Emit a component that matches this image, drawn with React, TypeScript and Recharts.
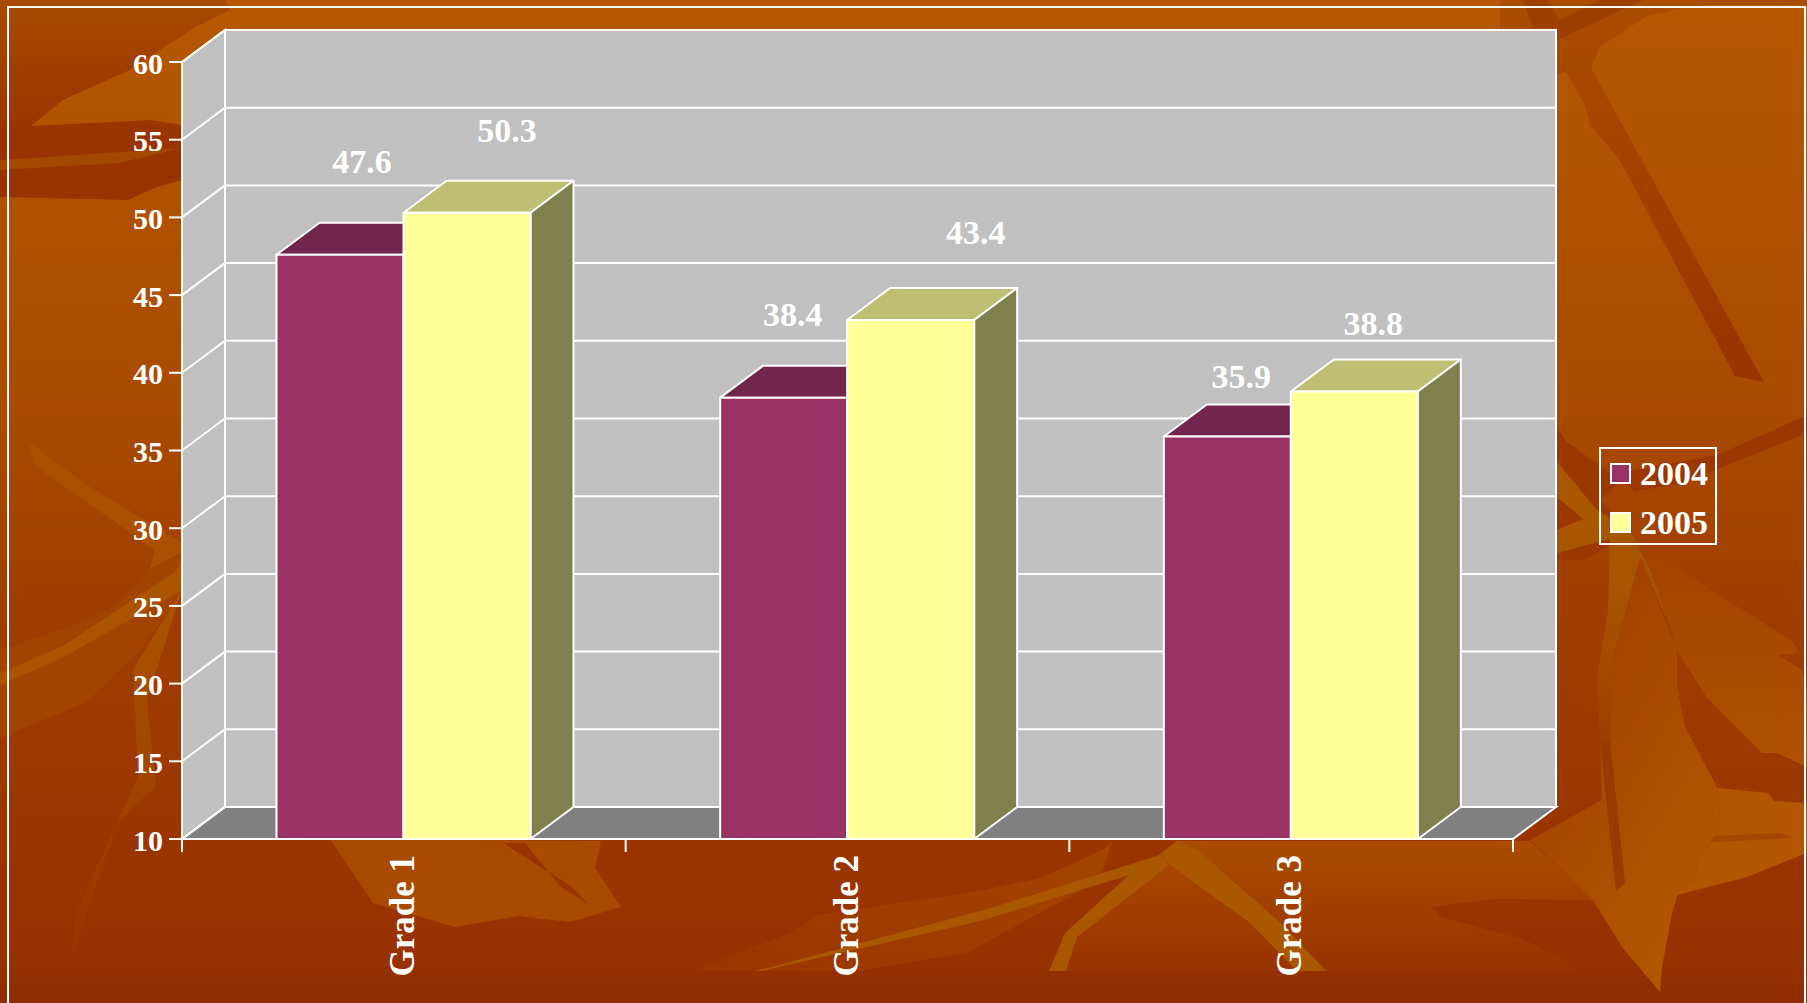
import { Bar, BarChart, CartesianGrid, LabelList, Legend, XAxis, YAxis } from "recharts"

const grades = ["Grade 1", "Grade 2", "Grade 3"]
const values2004 = [47.6, 38.4, 35.9]
const values2005 = [50.3, 43.4, 38.8]
const yTicks = [10, 15, 20, 25, 30, 35, 40, 45, 50, 55, 60]

// label positions in the picture are uneven, [dx, dy] from top centre of the bar
const labelNudge2004 = [[22, -93], [9, -83], [14, -60]]
const labelNudge2005 = [[40, -82], [65, -87], [19, -68]]

const tableData = grades.map((grade, i) => ({
    grade,
    y2004: values2004[i],
    y2005: values2005[i],
}))

const WIDTH = 1807
const HEIGHT = 1003
const LEFT = 182
const RIGHT = 1513
const TOP = 62
const BOTTOM = 839
const DEPTH_X = 43
const DEPTH_Y = 32
const BAND = (RIGHT - LEFT) / grades.length
const SERIF = "'Liberation Serif', serif"
const LINE = 2

type Shape = { fill: string; points: number[][] }

// the decorative slide background, not chart data
const backdropShapes: Shape[] = [
    { fill: "url(#fadeDarkTop)", points: [[0, 0], [226, 0], [230, 10], [195, 27], [130, 70], [63, 100], [31, 126], [149, 120], [182, 125], [182, 180], [157, 187], [128, 200], [0, 197]] },
    { fill: "#A24800", points: [[0, 160], [182, 148], [119, 163], [0, 170]] },
    { fill: "url(#fadeDarkTop2)", points: [[1500, 0], [1807, 0], [1807, 5], [1700, 5], [1647, 16], [1600, 47], [1591, 68], [1764, 382], [1735, 376], [1618, 157], [1590, 125], [1585, 105], [1566, 72], [1500, 90]] },
    { fill: "#9E3E00", points: [[1523, 0], [1533, 28], [1557, 28], [1557, 40], [1643, 0], [1600, 0], [1560, 20], [1548, 0]] },
    { fill: "#9B3800", points: [[1557, 427], [1567, 442], [1635, 491], [1680, 484], [1733, 463], [1807, 433], [1807, 415], [1717, 455], [1633, 470], [1600, 500], [1633, 533], [1583, 560], [1540, 560]] },
    { fill: "url(#fadeStar)", points: [[1557, 462], [1597, 510], [1630, 530], [1645, 560], [1700, 650], [1665, 615], [1640, 557], [1613, 660], [1610, 740], [1600, 743], [1597, 677], [1608, 610], [1610, 539], [1557, 553], [1557, 530], [1583, 519], [1557, 497]] },
    { fill: "url(#fadeRight)", points: [[1530, 840], [1593, 900], [1622, 947], [1660, 992], [1662, 967], [1672, 913], [1680, 887], [1693, 883], [1698, 860], [1718, 833], [1720, 810], [1717, 787], [1685, 727], [1677, 687], [1677, 650], [1640, 557], [1613, 660], [1610, 740], [1600, 743], [1602, 800]] },
    { fill: "#9B3A00", points: [[1610, 740], [1625, 883], [1616, 891], [1602, 760], [1600, 743]] },
    { fill: "#B25600", points: [[1717, 788], [1768, 793], [1774, 801], [1807, 803], [1807, 853], [1747, 877], [1677, 895], [1680, 887], [1693, 883], [1698, 860], [1718, 833], [1720, 810]] },
    { fill: "#A44800", points: [[1714, 836], [1780, 833], [1795, 838], [1710, 842]] },
    { fill: "url(#fadeUpperRight)", points: [[1640, 540], [1693, 578], [1793, 642], [1800, 653], [1778, 655], [1802, 670], [1807, 687], [1807, 767], [1777, 753], [1762, 753], [1707, 698], [1678, 652]] },
    { fill: "url(#fadeMid)", points: [[1177, 841], [1530, 841], [1593, 900], [1496, 899], [1430, 907], [1441, 917], [1525, 940], [1580, 971], [1049, 971], [1100, 900]] },
    { fill: "#A84A00", points: [[330, 839], [601, 841], [595, 868], [621, 907], [570, 922], [518, 916], [455, 927], [373, 903]] },
    { fill: "#993300", points: [[503, 843], [572, 887], [588, 904], [561, 887], [525, 843]] },
    { fill: "url(#fadeLow)", points: [[1112, 841], [1103, 850], [1040, 878], [980, 891], [819, 915], [790, 933], [693, 971], [860, 971], [968, 952], [1100, 880]] },
    { fill: "#AA5800", points: [[756, 971], [991, 908], [1160, 855], [1169, 865], [1129, 875], [980, 921], [762, 971]] },
    { fill: "#AA5800", points: [[1049, 971], [1065, 933], [1129, 875], [1169, 865], [1077, 937], [1066, 971]] },
    { fill: "#AA5800", points: [[1161, 854], [1177, 841], [1199, 851], [1285, 927], [1326, 971], [1297, 971], [1249, 922], [1170, 865]] },
    { fill: "#AA5000", points: [[28, 441], [87, 485], [130, 511], [182, 543], [182, 552], [150, 569], [155, 550], [34, 465]] },
    { fill: "#A24300", points: [[150, 569], [112, 608], [73, 625], [0, 650], [0, 738], [87, 702], [140, 650], [182, 590], [182, 552]] },
    { fill: "#AA5400", points: [[0, 673], [63, 646], [175, 572], [182, 560], [182, 590], [62, 658], [0, 685]] },
    { fill: "url(#fadeGold)", points: [[182, 590], [133, 669], [138, 777], [75, 915], [72, 958], [117, 823], [156, 786], [147, 700]] },
]

function toPoints(points: number[][]) {
    return points.map((p) => p.join(",")).join(" ")
}

//Background picture and the walls of the fake 3D box, sits under the chart.
function Backdrop() {
    const backLeft = LEFT + DEPTH_X
    const backRight = RIGHT + DEPTH_X
    const backTop = TOP - DEPTH_Y
    const backBottom = BOTTOM - DEPTH_Y
    return (
        <svg width={WIDTH} height={HEIGHT} style={{ position: "absolute", left: 0, top: 0 }}>
            <defs>
                <linearGradient id="page" x1="0" y1="0" x2="0" y2="1">
                    <stop offset="0" stopColor="#B55800" />
                    <stop offset="0.38" stopColor="#AA4C00" />
                    <stop offset="0.62" stopColor="#9F3D00" />
                    <stop offset="0.9" stopColor="#993300" />
                    <stop offset="0.96" stopColor="#963100" />
                    <stop offset="1" stopColor="#8E2D00" />
                </linearGradient>
                <linearGradient id="fadeDarkTop" x1="0" y1="0" x2="0" y2="1">
                    <stop offset="0" stopColor="#A84A00" />
                    <stop offset="0.7" stopColor="#993300" />
                    <stop offset="1" stopColor="#993300" />
                </linearGradient>
                <linearGradient id="fadeDarkTop2" x1="0" y1="0" x2="0" y2="1">
                    <stop offset="0" stopColor="#AB4D00" />
                    <stop offset="1" stopColor="#993300" />
                </linearGradient>
                <linearGradient id="fadeStar" x1="0" y1="0" x2="0" y2="1">
                    <stop offset="0" stopColor="#AA5800" />
                    <stop offset="0.45" stopColor="#A85400" />
                    <stop offset="1" stopColor="#9F3E00" />
                </linearGradient>
                <linearGradient id="fadeRight" x1="0" y1="0.2" x2="0.6" y2="1">
                    <stop offset="0" stopColor="#A03D00" />
                    <stop offset="0.55" stopColor="#AA4C00" />
                    <stop offset="1" stopColor="#B25600" />
                </linearGradient>
                <linearGradient id="fadeUpperRight" x1="0" y1="0" x2="0" y2="1">
                    <stop offset="0" stopColor="#A34200" />
                    <stop offset="1" stopColor="#AE5200" />
                </linearGradient>
                <linearGradient id="fadeMid" x1="0" y1="0" x2="0" y2="1">
                    <stop offset="0" stopColor="#AA4C00" />
                    <stop offset="1" stopColor="#993300" />
                </linearGradient>
                <linearGradient id="fadeLow" x1="1" y1="0" x2="0" y2="1">
                    <stop offset="0" stopColor="#A44500" />
                    <stop offset="1" stopColor="#9B3500" />
                </linearGradient>
                <linearGradient id="fadeGold" x1="0" y1="0" x2="0" y2="1">
                    <stop offset="0" stopColor="#AA5400" />
                    <stop offset="0.5" stopColor="#A24500" />
                    <stop offset="1" stopColor="#993300" />
                </linearGradient>
            </defs>
            <rect width={WIDTH} height={HEIGHT} fill="url(#page)" />
            {backdropShapes.map((s, i) => (
                <polygon key={i} points={toPoints(s.points)} fill={s.fill} />
            ))}
            <rect x={8} y={7} width={1797} height={1020} fill="none" stroke="#fff" strokeWidth={LINE} />
            <rect x={backLeft} y={backTop} width={RIGHT - LEFT} height={BOTTOM - TOP} fill="#C0C0C0" stroke="#fff" strokeWidth={LINE} />
            <polygon
                points={toPoints([[LEFT, TOP], [backLeft, backTop], [backLeft, backBottom], [LEFT, BOTTOM]])}
                fill="#C0C0C0"
                stroke="#fff"
                strokeWidth={LINE}
            />
            <polygon
                points={toPoints([[LEFT, BOTTOM], [backLeft, backBottom], [backRight, backBottom], [RIGHT, BOTTOM]])}
                fill="#808080"
                stroke="#fff"
                strokeWidth={LINE}
            />
        </svg>
    )
}

//One grid line on the back wall plus its diagonal on the side wall.
function WallLine(props: any) {
    const { x1, y1, x2, y2 } = props
    return (
        <g>
            <line x1={x1} y1={y1} x2={x1 + DEPTH_X} y2={y1 - DEPTH_Y} stroke="#fff" strokeWidth={LINE} />
            <line x1={x1 + DEPTH_X} y1={y1 - DEPTH_Y} x2={x2 + DEPTH_X} y2={y2 - DEPTH_Y} stroke="#fff" strokeWidth={LINE} />
        </g>
    )
}

function Box3D(props: any) {
    const { x, y, width, height, fill, topFill, sideFill } = props
    const right = x + width
    const bottom = y + height
    return (
        <g stroke="#fff" strokeWidth={LINE} strokeLinejoin="round">
            <polygon
                points={toPoints([[x, y], [x + DEPTH_X, y - DEPTH_Y], [right + DEPTH_X, y - DEPTH_Y], [right, y]])}
                fill={topFill}
            />
            <polygon
                points={toPoints([[right, y], [right + DEPTH_X, y - DEPTH_Y], [right + DEPTH_X, bottom - DEPTH_Y], [right, bottom]])}
                fill={sideFill}
            />
            <rect x={x} y={y} width={width} height={height} fill={fill} />
        </g>
    )
}

function ValueLabel(props: any) {
    const { x, y, width, value, index, nudges } = props
    return (
        <text
            x={x + width / 2 + nudges[index][0]}
            y={y + nudges[index][1]}
            textAnchor="middle"
            dominantBaseline="central"
            fill="#fff"
            fontFamily={SERIF}
            fontWeight={700}
            fontSize={34}
        >
            {value}
        </text>
    )
}

function YTick(props: any) {
    const { x, y, payload } = props
    return (
        <text x={x} y={y + 1} textAnchor="end" dominantBaseline="central" fill="#fff" fontFamily={SERIF} fontWeight={700} fontSize={30}>
            {payload.value}
        </text>
    )
}

//X ticks sit on the band edges, labels are turned on the band centre.
function XTick(props: any) {
    const { x, payload, index } = props
    const labelX = x + 10
    return (
        <g>
            <line x1={x - BAND / 2} y1={BOTTOM} x2={x - BAND / 2} y2={BOTTOM + 13} stroke="#fff" strokeWidth={LINE} />
            {index === grades.length - 1 && (
                <line x1={x + BAND / 2} y1={BOTTOM} x2={x + BAND / 2} y2={BOTTOM + 13} stroke="#fff" strokeWidth={LINE} />
            )}
            <text
                x={labelX}
                y={855}
                transform={`rotate(-90 ${labelX} 855)`}
                textAnchor="end"
                fill="#fff"
                fontFamily={SERIF}
                fontWeight={700}
                fontSize={35}
            >
                {payload.value}
            </text>
        </g>
    )
}

function LegendBox(props: any) {
    const items = props.payload ?? []
    return (
        <div
            style={{
                boxSizing: "border-box",
                width: 118,
                height: 98,
                border: "2px solid #fff",
                paddingLeft: 9,
            }}
        >
            {items.map((item: any) => (
                <div key={item.value} style={{ display: "flex", alignItems: "center", height: 49 }}>
                    <span
                        style={{
                            boxSizing: "border-box",
                            width: 21,
                            height: 21,
                            background: item.color,
                            border: "2px solid #fff",
                            marginRight: 9,
                        }}
                    />
                    <span style={{ color: "#fff", font: `700 34px ${SERIF}`, lineHeight: "49px" }}>{item.value}</span>
                </div>
            ))}
        </div>
    )
}

export default function App() {
    return (
        <div style={{ position: "fixed", left: 0, top: 0, width: WIDTH, height: HEIGHT, overflow: "hidden" }}>
            <Backdrop />
            <div style={{ position: "absolute", left: 0, top: 0 }}>
                <BarChart
                    width={WIDTH}
                    height={HEIGHT}
                    data={tableData}
                    margin={{ left: 0, top: TOP, right: WIDTH - RIGHT, bottom: 64 }}
                    barCategoryGap={94.5}
                    barGap={0}
                >
                    <CartesianGrid vertical={false} horizontal={(p: any) => <WallLine key={p.key} {...p} />} />
                    <XAxis
                        dataKey="grade"
                        height={100}
                        interval={0}
                        axisLine={{ stroke: "#fff", strokeWidth: LINE }}
                        tickLine={false}
                        tick={XTick}
                    />
                    <YAxis
                        type="number"
                        width={LEFT}
                        domain={[10, 60]}
                        ticks={yTicks}
                        interval={0}
                        tickSize={13}
                        tickMargin={6}
                        axisLine={{ stroke: "#fff", strokeWidth: LINE }}
                        tickLine={{ stroke: "#fff", strokeWidth: LINE }}
                        tick={YTick}
                    />
                    <Legend
                        layout="horizontal"
                        verticalAlign="middle"
                        content={LegendBox}
                        wrapperStyle={{ position: "absolute", left: 1599, top: 447, width: 118, height: 98 }}
                    />
                    <Bar
                        dataKey="y2004"
                        name="2004"
                        fill="#993366"
                        isAnimationActive={false}
                        shape={(p: any) => <Box3D {...p} topFill="#73264D" sideFill="#73264D" />}
                    >
                        <LabelList dataKey="y2004" content={(p: any) => <ValueLabel {...p} nudges={labelNudge2004} />} />
                    </Bar>
                    <Bar
                        dataKey="y2005"
                        name="2005"
                        fill="#FFFF99"
                        isAnimationActive={false}
                        shape={(p: any) => <Box3D {...p} topFill="#BFBF73" sideFill="#80804D" />}
                    >
                        <LabelList dataKey="y2005" content={(p: any) => <ValueLabel {...p} nudges={labelNudge2005} />} />
                    </Bar>
                </BarChart>
            </div>
        </div>
    )
}
